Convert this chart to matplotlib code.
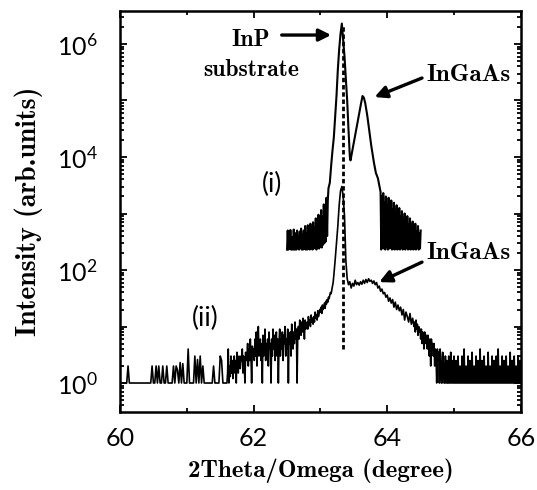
import matplotlib
matplotlib.use("Agg")
import matplotlib.pyplot as plt
from matplotlib.ticker import FixedLocator, NullFormatter, LogLocator

plt.rcParams['mathtext.fontset'] = 'custom'
plt.rcParams['mathtext.rm'] = 'Lato'
plt.rcParams['mathtext.it'] = 'Lato'
plt.rcParams['mathtext.bf'] = 'Lato'

# ---------------- data ----------------
# curve (i), left noisy tail: 62.50 ... 63.11 in steps of 0.01
i_left_start, i_step = 62.50, 0.01
i_left_y = [230, 500, 230, 420, 240, 510, 230, 230, 380, 230,
            520, 230, 450, 230, 230, 500, 240, 400, 230, 480,
            250, 540, 230, 420, 230, 500, 240, 600, 230, 450,
            230, 620, 240, 480, 230, 660, 250, 520, 230, 700,
            240, 560, 260, 820, 230, 650, 250, 950, 240, 780,
            260, 1150, 250, 900, 280, 1450, 300, 1200, 320, 1900,
            400, 1700]
# curve (i), peak region
i_core_x = [63.12, 63.14, 63.16, 63.18, 63.20, 63.22, 63.24, 63.26, 63.28, 63.30,
            63.32, 63.34, 63.36, 63.38, 63.40, 63.42, 63.44, 63.45, 63.47, 63.49,
            63.51, 63.53, 63.55, 63.57, 63.59, 63.61, 63.63, 63.65, 63.67, 63.70,
            63.73, 63.76, 63.80, 63.83, 63.86, 63.88]
i_core_y = [2800, 3500, 7000, 13000, 22000, 50000, 120000, 350000, 800000, 1500000,
            2300000, 1200000, 600000, 250000, 100000, 30000, 10000, 8700, 11700, 15700,
            21000, 28000, 38000, 51000, 68000, 92000, 120000, 112000, 90000, 55000,
            30000, 16000, 8000, 5200, 4200, 3200]
# curve (i), right noisy tail: 63.90 ... 64.50 in steps of 0.01
i_right_start = 63.90
i_right_y = [2400, 230, 2000, 250, 2300, 240, 1600, 230, 2000, 260,
             1400, 230, 1900, 240, 1500, 250, 1700, 230, 1200, 240,
             1550, 230, 1100, 250, 1400, 230, 950, 240, 1250, 230,
             900, 250, 1100, 230, 800, 240, 1000, 230, 700, 250,
             900, 230, 650, 240, 820, 230, 600, 250, 720, 230,
             520, 240, 660, 230, 480, 250, 600, 230, 450, 240,
             500]

# curve (ii), segment A: 60.00 ... 61.58 in steps of 0.02
ii_a_start, ii_a_step = 60.00, 0.02
ii_a_y = [
    1, 1, 1, 1, 1, 1, 2, 1, 1, 1,            # 60.00
    1, 1, 1, 1, 1, 1, 1, 1, 1, 1,            # 60.20
    1, 1, 1, 1, 2, 1, 1, 2, 1, 2,            # 60.40
    1, 1, 2, 1, 1, 2, 1, 1, 1, 1,            # 60.60
    2, 1, 2, 1.7, 1, 2.3, 1, 2.2, 1, 1,      # 60.80
    1, 4, 1, 1, 1, 1, 3, 1, 2.6, 1,          # 61.00
    3, 1, 2, 1, 1, 1, 1, 1, 1, 1,            # 61.20
    2, 1, 1, 1, 1, 3, 2.5, 1, 1, 1,          # 61.40
]
# curve (ii), segment B: 61.60 ... 63.19 in steps of 0.01
ii_b_start, ii_b_step = 61.60, 0.01
ii_b_y = [
    1, 1.5, 4, 1, 2, 1.3, 3, 1.5, 2.5, 1.2,      # 61.60
    2, 3, 1.5, 2.5, 1, 3.5, 2, 1.5, 3, 2.2,      # 61.70
    1.8, 3, 2.5, 4, 1.5, 3, 2, 1, 3.5, 2.5,      # 61.80
    3, 5, 2, 4, 2.5, 6, 3, 1, 4.5, 3,            # 61.90
    4, 2.5, 6, 3, 8, 2, 5, 10, 3, 4,             # 62.00
    6, 2.5, 5, 1, 7, 3, 4, 9, 2.5, 5,            # 62.10
    3, 6, 2, 8, 4, 5, 1, 6, 3, 9,                # 62.20
    4, 7, 2.5, 5, 8, 3, 6, 1, 5, 9,              # 62.30
    3, 6, 4, 8, 2.5, 7, 5, 10, 3, 6,             # 62.40
    4, 9, 1, 7, 5, 8, 3, 11, 6, 4,               # 62.50
    8, 5, 12, 6, 9, 1, 7, 10, 6, 13,             # 62.60
    9, 7, 12, 8, 14, 10, 6, 13, 9, 11,           # 62.70
    12, 9, 15, 11, 13, 10, 16, 12, 14, 11,       # 62.80
    15, 12, 18, 14, 16, 13, 19, 15, 17, 20,      # 62.90
    18, 22, 17, 24, 20, 23, 26, 21, 28, 25,      # 63.00
    30, 27, 33, 31, 36, 40, 38, 45, 52, 60,      # 63.10
]
# curve (ii), segment C: 63.20 ... 64.38 in steps of 0.02
ii_c_start, ii_c_step = 63.20, 0.02
ii_c_y = [
    80, 150, 300, 600, 1400, 2500, 3000, 2000, 900, 150,  # 63.20
    70, 55, 62, 48, 58, 52, 66, 55, 60, 54,  # 63.40
    62, 56, 66, 58, 68, 60, 70, 63, 66, 58,  # 63.60
    64, 55, 60, 48, 52, 42, 46, 38, 40, 33,  # 63.80
    36, 28, 32, 26, 30, 22, 27, 20, 24, 19,  # 64.00
    22, 16, 20, 13, 18, 15, 12, 17, 11, 14,  # 64.20
]
# curve (ii), segment D: 64.40 ... 66.00 in steps of 0.01
ii_d_start, ii_d_step = 64.40, 0.01
ii_d_y = [
    10, 12, 8, 13, 9, 11, 7, 10, 8, 9,           # 64.40
    6, 9, 5, 8, 7, 4, 8, 6, 5, 7,                # 64.50
    4, 7, 5, 3, 6, 2, 6, 4, 5, 3,                # 64.60
    5, 2, 4, 3, 1, 4, 2.5, 3.5, 1, 4,            # 64.70
    3, 1, 1, 3.5, 2, 1, 1, 3, 1, 2.5,            # 64.80
    1, 1, 3, 1, 1, 3.5, 1, 2.5, 1, 1,            # 64.90
    3, 1, 1, 2.5, 1, 1, 3, 1, 1, 2,              # 65.00
    1, 1, 3, 1, 1, 4, 1, 1, 2, 1,                # 65.10
    1, 3, 1, 1, 2.5, 1, 1, 3.5, 1, 1,            # 65.20
    2, 1, 1, 3, 1, 1, 2.5, 1, 1, 4,              # 65.30
    1, 1, 2.5, 1, 1, 3, 1, 1, 2, 1,              # 65.40
    1, 3.5, 1, 1, 2, 1, 1, 3, 1, 1,              # 65.50
    2.5, 1, 1, 3, 1, 1, 4, 1, 1, 2,              # 65.60
    1, 1, 3, 1, 1, 2.5, 1, 1, 3, 1,              # 65.70
    1, 2, 1, 1, 3.5, 1, 1, 2.5, 1, 1,            # 65.80
    3, 1, 1, 2, 1, 1, 3, 1, 1, 2.5,              # 65.90
    1,                                           # 66.00
]

# InP substrate reference line
inp_pos = 63.33
inp_line_range = [4, 2.2e6]

x_ticks = [60, 62, 64, 66]
y_label_decades = [0, 2, 4, 6]


def grid(start, step, n):
    return [round(start + k * step, 2) for k in range(n)]


# assemble x grids
x_i = (grid(i_left_start, i_step, len(i_left_y)) + i_core_x
       + grid(i_right_start, i_step, len(i_right_y)))
y_i = i_left_y + i_core_y + i_right_y
x_ii = (grid(ii_a_start, ii_a_step, len(ii_a_y)) + grid(ii_b_start, ii_b_step, len(ii_b_y))
        + grid(ii_c_start, ii_c_step, len(ii_c_y)) + grid(ii_d_start, ii_d_step, len(ii_d_y)))
y_ii = ii_a_y + ii_b_y + ii_c_y + ii_d_y

# ---------------- figure ----------------
fig = plt.figure(figsize=(5.37, 4.90), dpi=100)
ax = fig.add_axes([0.2235, 0.1592, 0.7465, 0.8184])

ax.plot(x_ii, y_ii, color='black', lw=1.2)
ax.plot(x_i, y_i, color='black', lw=1.5)
ax.plot([inp_pos, inp_pos], inp_line_range, color='black', lw=2.0,
        linestyle=(0, (1.6, 1.0)))

ax.set_yscale('log')
ax.set_xlim(60, 66)
ax.set_ylim(0.307, 3.84e6)

ax.xaxis.set_major_locator(FixedLocator(x_ticks))
ax.xaxis.set_minor_locator(FixedLocator([61, 63, 65]))
ax.set_xticklabels([str(v) for v in x_ticks])

ax.yaxis.set_major_locator(FixedLocator([10.0 ** d for d in range(0, 7)]))
ax.yaxis.set_minor_locator(LogLocator(base=10, subs=range(2, 10), numticks=20))
ax.yaxis.set_minor_formatter(NullFormatter())
ax.set_yticklabels([r'$\mathregular{10^{%d}}$' % d if d in y_label_decades else ''
                    for d in range(0, 7)])

for lab in ax.get_xticklabels() + ax.get_yticklabels():
    lab.set_fontfamily('Lato')
    lab.set_fontsize(18)

ax.tick_params(which='both', direction='in', top=True, right=True, width=1.3)
ax.tick_params(which='major', length=5)
ax.tick_params(which='minor', length=3)
ax.tick_params(axis='x', pad=11)
ax.tick_params(axis='y', pad=16)
for s in ax.spines.values():
    s.set_linewidth(1.8)

serif = 'cmb10'
ax.set_ylabel('Intensity (arb.units)', fontfamily=serif, fontsize=20, labelpad=10)
ax.set_xlabel('2Theta/Omega (degree)', fontfamily=serif, fontsize=18, labelpad=6)

arrow = dict(arrowstyle='-|>', color='black', lw=2.4, mutation_scale=18,
             shrinkA=0, shrinkB=0)
ax.text(61.96, 1.18e6, 'InP', fontfamily=serif, fontsize=17, ha='center', va='center')
ax.text(61.96, 3.5e5, 'substrate', fontfamily=serif, fontsize=17, ha='center', va='center')
ax.annotate('', xy=(63.16, 1.44e6), xytext=(62.42, 1.44e6), arrowprops=arrow)

ax.text(65.22, 2.8e5, 'InGaAs', fontfamily=serif, fontsize=18, ha='center', va='center')
ax.annotate('', xy=(63.81, 1.15e5), xytext=(64.52, 2.5e5), arrowprops=arrow)

ax.text(65.22, 200, 'InGaAs', fontfamily=serif, fontsize=18, ha='center', va='center')
ax.annotate('', xy=(63.88, 61), xytext=(64.52, 138), arrowprops=arrow)

ax.text(62.28, 3200, '(i)', fontfamily='Lato', fontsize=19, ha='center', va='center')
ax.text(61.28, 14, '(ii)', fontfamily='Lato', fontsize=19, ha='center', va='center')

fig.savefig('out.png', dpi=100)
